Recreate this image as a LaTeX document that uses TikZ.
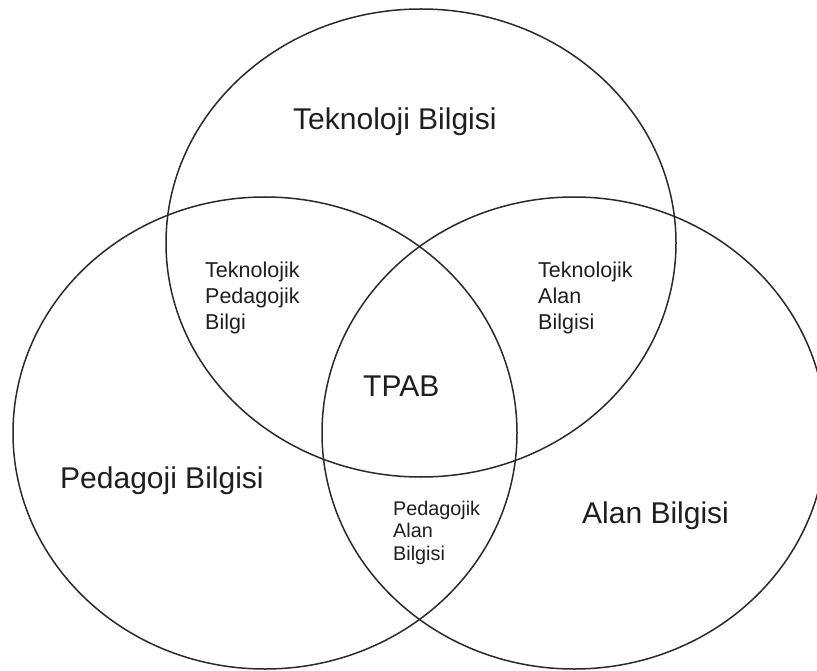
\documentclass[tikz,border=0pt]{standalone}
\usepackage{fontspec}
\setmainfont{Liberation Sans}
\usetikzlibrary{shapes.geometric}
\definecolor{linegray}{HTML}{2A2A2A}
\definecolor{textgray}{HTML}{1E1E1E}
\begin{document}
\begin{tikzpicture}[x=1pt,y=-1pt,
  venn/.style={draw=linegray, line width=1.5pt, ellipse, inner sep=0pt, outer sep=0pt},
  biglabel/.style={anchor=base west, inner sep=0pt, text=textgray, font={\fontsize{30}{36}\selectfont}},
  smalllabel/.style={anchor=base west, inner sep=0pt, text=textgray, align=left, font={\fontsize{21.5}{26}\selectfont}},
  tinylabel/.style={anchor=base west, inner sep=0pt, text=textgray, align=left, font={\fontsize{19.8}{22.5}\selectfont}}]
\useasboundingbox (0,0) rectangle (817,671);
\clip (0,0) rectangle (817,671);
\node[venn, minimum width=510pt, minimum height=468pt] (tech) at (421,243) {};
\node[venn, minimum width=504pt, minimum height=472pt] (ped) at (265,433) {};
\node[venn, minimum width=504pt, minimum height=472pt] (alan) at (574,433) {};
\node[biglabel] (tb) at (293,130) {Teknoloji Bilgisi};
\node[biglabel] (pb) at (60,488) {Pedagoji Bilgisi};
\node[biglabel] (ab) at (582,523) {Alan Bilgisi};
\node[biglabel] (tpab) at (363,396) {TPAB};
\node[smalllabel] (tpb) at (205,329) {Teknolojik\\Pedagojik\\Bilgi};
\node[smalllabel] (tab) at (538,329) {Teknolojik\\Alan\\Bilgisi};
\node[tinylabel] (pab) at (393,560) {Pedagojik\\Alan\\Bilgisi};
\end{tikzpicture}
\end{document}
